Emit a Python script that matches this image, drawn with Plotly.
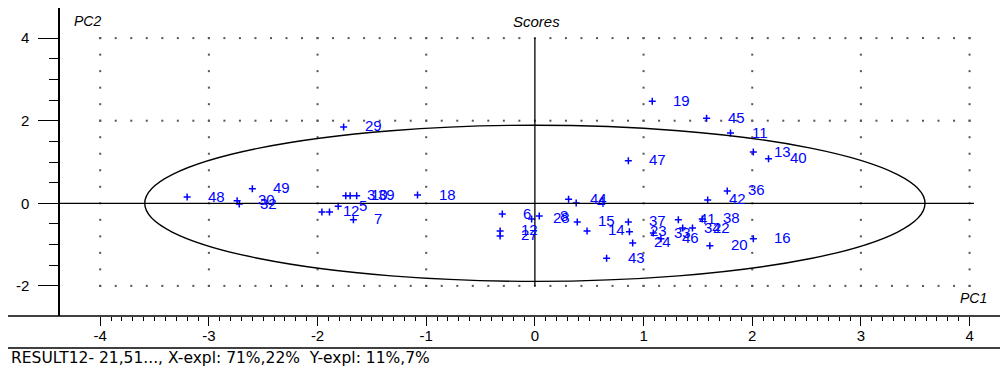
import numpy as np
import plotly.graph_objects as go

# Sample scores on the first two principal components
labels = ["48", "30", "32", "49", "29", "18", "1", "2", "5", "3", "10", "39", "7",
          "44", "4", "6", "28", "8", "12", "27", "15", "14", "43", "24",
          "37", "23", "33", "46", "41", "34", "22", "38", "20", "16",
          "19", "45", "11", "47", "13", "40", "36", "42"]
pc1 = [-3.20, -2.74, -2.72, -2.60, -1.76, -1.08, -1.96, -1.89, -1.81, -1.74, -1.70, -1.64, -1.67,
       0.31, 0.38, -0.30, -0.03, 0.04, -0.32, -0.32, 0.39, 0.48, 0.66, 0.90,
       0.86, 0.87, 1.09, 1.16, 1.32, 1.36, 1.45, 1.54, 1.61, 2.01,
       1.08, 1.58, 1.80, 0.86, 2.01, 2.15, 1.77, 1.59]
pc2 = [0.15, 0.06, -0.02, 0.35, 1.85, 0.20, -0.21, -0.21, -0.07, 0.18, 0.18, 0.18, -0.40,
       0.10, 0.01, -0.26, -0.38, -0.31, -0.67, -0.79, -0.45, -0.67, -1.33, -0.96,
       -0.45, -0.69, -0.72, -0.86, -0.40, -0.60, -0.60, -0.38, -1.03, -0.86,
       2.47, 2.06, 1.70, 1.03, 1.24, 1.08, 0.30, 0.08]

# Hotelling ellipse half-axes
ellipse_a = 3.59
ellipse_b = 1.89

x_major = [-4, -3, -2, -1, 0, 1, 2, 3, 4]
y_major = [-2, 0, 2, 4]
caption = "RESULT12- 21,51..., X-expl: 71%,22%  Y-expl: 11%,7%"

X_RANGE = [-4.37, 4.28]
Y_RANGE = [-2.729, 4.729]
W, H = 1000, 373
M_L, M_R, M_T, M_B = 60, 0, 8, 57
PW = W - M_L - M_R
PH = H - M_T - M_B

BLUE = "#0000ff"
FONT = "Liberation Sans, Arial, sans-serif"
WIDE_FONT = "DejaVu Sans, Verdana, sans-serif"


def px_x(p):
    return (p - M_L) / PW


def px_y(p):
    return (H - M_B - p) / PH


fig = go.Figure()

# dotted grid: rows at the non-zero y ticks, columns at the non-zero x ticks
gx, gy = [], []
row_x = np.arange(x_major[0], x_major[-1] + 1e-9, 1 / 7)
for yv in y_major:
    if yv == 0:
        continue
    gx.extend(row_x)
    gy.extend([yv] * len(row_x))
col_y = np.arange(y_major[0], y_major[-1] + 1e-9, 0.4)
for xv in x_major:
    if xv == 0:
        continue
    gx.extend([xv] * len(col_y))
    gy.extend(col_y)
fig.add_trace(go.Scatter(x=gx, y=gy, mode="markers",
                         marker=dict(symbol="square", size=2, color="#555555"),
                         hoverinfo="skip", showlegend=False))

# score points
fig.add_trace(go.Scatter(x=pc1, y=pc2, mode="markers",
                         marker=dict(symbol="cross-thin", size=5, color=BLUE,
                                     line=dict(color=BLUE, width=1.5)),
                         hoverinfo="skip", showlegend=False))

shapes = [
    # ellipse
    dict(type="circle", xref="x", yref="y", x0=-ellipse_a, x1=ellipse_a,
         y0=-ellipse_b, y1=ellipse_b, line=dict(color="black", width=1.4)),
    # zero axes inside the plot
    dict(type="line", xref="x", yref="y", x0=X_RANGE[0], x1=4.04, y0=0, y1=0,
         line=dict(color="black", width=1.3)),
    dict(type="line", xref="x", yref="y", x0=0, x1=0, y0=y_major[0], y1=y_major[-1],
         line=dict(color="black", width=1.3)),
    # bottom axis line and caption separator
    dict(type="line", xref="paper", yref="paper", x0=px_x(8), x1=1, y0=0, y1=0,
         line=dict(color="black", width=1.3)),
    dict(type="line", xref="paper", yref="paper", x0=px_x(8), x1=1,
         y0=px_y(348), y1=px_y(348), line=dict(color="black", width=1.3)),
]

annotations = []
for lab, xv, yv in zip(labels, pc1, pc2):
    annotations.append(dict(x=xv, y=yv, xref="x", yref="y", text=lab,
                            showarrow=False, xanchor="left", yanchor="middle",
                            xshift=19, yshift=1,
                            font=dict(family=FONT, size=15, color=BLUE)))

annotations += [
    dict(x=px_x(87), y=px_y(21), xref="paper", yref="paper", text="<i>PC2</i>",
         showarrow=False, xanchor="center", yanchor="middle",
         font=dict(family=FONT, size=14, color="black")),
    dict(x=px_x(536), y=px_y(21), xref="paper", yref="paper", text="<i>Scores</i>",
         showarrow=False, xanchor="center", yanchor="middle",
         font=dict(family=FONT, size=15, color="black")),
    dict(x=px_x(973), y=px_y(298), xref="paper", yref="paper", text="<i>PC1</i>",
         showarrow=False, xanchor="center", yanchor="middle",
         font=dict(family=FONT, size=14, color="black")),
    dict(x=px_x(9), y=px_y(358), xref="paper", yref="paper", text=caption,
         showarrow=False, xanchor="left", yanchor="middle",
         font=dict(family=WIDE_FONT, size=15.5, color="black")),
]

fig.update_layout(
    width=W, height=H,
    margin=dict(l=M_L, r=M_R, t=M_T, b=M_B, pad=0),
    paper_bgcolor="white", plot_bgcolor="white",
    showlegend=False, hovermode=False,
    shapes=shapes, annotations=annotations,
    font=dict(family=FONT, size=15, color="black"),
)

fig.update_xaxes(
    range=X_RANGE, showgrid=False, zeroline=False, showline=False,
    tickmode="array", tickvals=x_major, ticktext=[str(v) for v in x_major],
    ticks="outside", ticklen=9, tickwidth=1.3, tickcolor="black",
    ticklabelstandoff=-3,
    tickfont=dict(family=FONT, size=15, color="black"),
    minor=dict(tickvals=list(np.round(np.arange(-4, 4.0001, 0.1), 2)),
               ticks="outside", ticklen=4, tickwidth=1.2, tickcolor="black"),
)
fig.update_yaxes(
    range=Y_RANGE, showgrid=False, zeroline=False,
    showline=True, linecolor="black", linewidth=1.5,
    tickmode="array", tickvals=y_major, ticktext=[str(v) for v in y_major],
    ticks="outside", ticklen=20, tickwidth=1.3, tickcolor="black",
    ticklabelstandoff=6,
    tickfont=dict(family=FONT, size=15, color="black"),
    minor=dict(tickvals=list(np.arange(-2, 4.0001, 0.5)),
               ticks="outside", ticklen=9, tickwidth=1.2, tickcolor="black"),
)

fig.write_html("out.html")
